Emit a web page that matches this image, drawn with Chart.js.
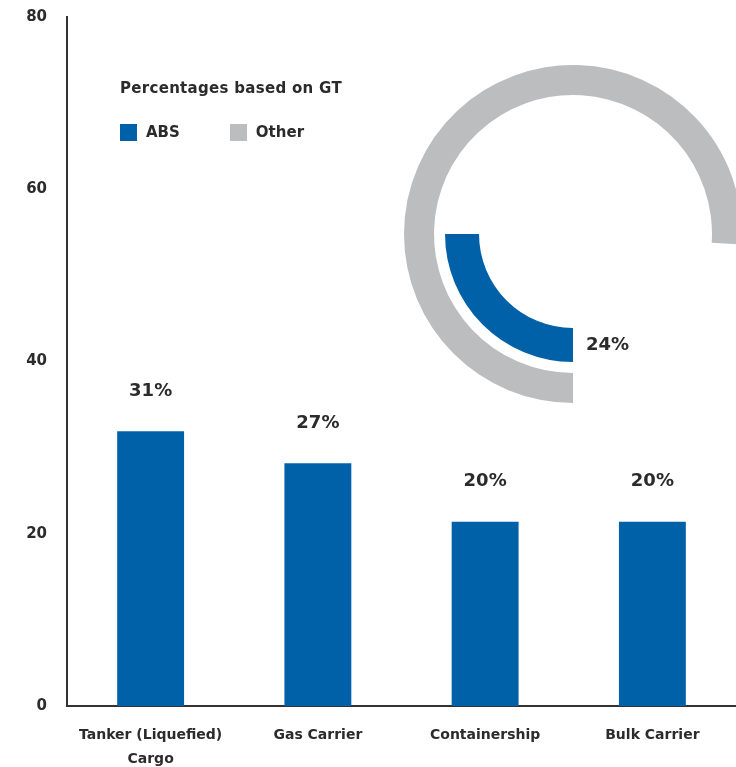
<!DOCTYPE html>
<html>
<head>
<meta charset="utf-8">
<script src="https://cdn.jsdelivr.net/npm/chart.js@4.4.1/dist/chart.umd.min.js"></script>
<style>
  html, body { margin: 0; padding: 0; background: #fff; overflow: hidden; }
  #wrap { position: relative; width: 736px; height: 767px; overflow: hidden; }
  #barChart { position: absolute; left: 0; top: -4px; }
  #ringChart { position: absolute; left: 404px; top: 65px; }
  .legend { position: absolute; left: 120px; top: 78px; font-family: "DejaVu Sans", sans-serif; font-weight: bold; color: #2b2b2b; font-size: 15px; }
  .legend .title { height: 20px; line-height: 20px; letter-spacing: 0.3px; }
  .legend .items { margin-top: 25px; display: flex; align-items: center; }
  .legend .sw { width: 17px; height: 17px; display: inline-block; margin-right: 9px; }
  .legend .item { display: flex; align-items: center; margin-right: 50px; }
</style>
</head>
<body>
<div id="wrap">
  <canvas id="barChart" width="736" height="771"></canvas>
  <canvas id="ringChart" width="338" height="338"></canvas>
  <div class="legend">
    <div class="title">Percentages based on GT</div>
    <div class="items">
      <div class="item"><span class="sw" style="background:#0061a8"></span>ABS</div>
      <div class="item"><span class="sw" style="background:#bcbdbf"></span>Other</div>
    </div>
  </div>
</div>
<script>
// data
const categories = [['Tanker (Liquefied)', 'Cargo'], 'Gas Carrier', 'Containership', 'Bulk Carrier'];
const barValues = [31.9, 28.2, 21.4, 21.4];
const barLabels = ['31%', '27%', '20%', '20%'];
const yTicks = [0, 20, 40, 60, 80];
const absArc = 25;      // arc as drawn in the picture
const absLabel = '24%';
const otherShare = 76;

const blue = '#0061a8';
const grey = '#bcbdbf';
const textColor = '#2b2b2b';
const fontFamily = '"DejaVu Sans", sans-serif';

// value labels above bars
const barLabelPlugin = {
    id: 'barLabels',
    afterDatasetsDraw(chart) {
        const ctx = chart.ctx;
        const meta = chart.getDatasetMeta(0);
        ctx.save();
        ctx.font = 'bold 18px ' + fontFamily;
        ctx.fillStyle = textColor;
        ctx.textAlign = 'center';
        ctx.textBaseline = 'middle';
        meta.data.forEach((bar, i) => {
            ctx.fillText(barLabels[i], bar.x, bar.y - 40);
        });
        ctx.restore();
    }
};

const ctxBar = document.getElementById('barChart').getContext('2d');
const barChart = new Chart(ctxBar, {
    type: 'bar',
    data: {
        labels: categories,
        datasets: [{
            data: barValues,
            backgroundColor: blue,
            borderWidth: 0,
            barPercentage: 0.4,
            categoryPercentage: 1.0
        }]
    },
    options: {
        responsive: false,
        animation: false,
        events: [],
        layout: {
            padding: { top: 6, right: 0, left: 0, bottom: 0 }
        },
        plugins: {
            legend: { display: false },
            tooltip: { enabled: false }
        },
        scales: {
            x: {
                grid: { display: false },
                border: { color: '#333', width: 2 },
                ticks: {
                    color: textColor,
                    font: { family: fontFamily, size: 14, weight: 'bold', lineHeight: 1.75 },
                    padding: 9,
                    maxRotation: 0,
                    autoSkip: false
                },
                afterFit(scale) { scale.height = 61; }
            },
            y: {
                min: 0,
                max: 80,
                grid: { display: false },
                border: { color: '#333', width: 2 },
                afterBuildTicks(scale) {
                    scale.ticks = yTicks.map(v => ({ value: v }));
                },
                ticks: {
                    color: textColor,
                    font: { family: fontFamily, size: 15, weight: 'bold' },
                    padding: 12
                },
                afterFit(scale) { scale.width = 67; }
            }
        }
    },
    plugins: [barLabelPlugin]
});

// share label next to the inner arc
const ringLabelPlugin = {
    id: 'ringLabel',
    afterDatasetsDraw(chart) {
        const arc = chart.getDatasetMeta(2).data[0];
        const ctx = chart.ctx;
        ctx.save();
        ctx.font = 'bold 18px ' + fontFamily;
        ctx.fillStyle = textColor;
        ctx.textAlign = 'left';
        ctx.textBaseline = 'middle';
        ctx.fillText(absLabel, arc.x + 13, arc.y + (arc.innerRadius + arc.outerRadius) / 2);
        ctx.restore();
    }
};

const ctxRing = document.getElementById('ringChart').getContext('2d');
const ringChart = new Chart(ctxRing, {
    type: 'doughnut',
    data: {
        labels: ['Other', 'ABS'],
        datasets: [{
            data: [otherShare, 100 - otherShare],
            backgroundColor: [grey, 'rgba(0,0,0,0)'],
            borderWidth: 0,
            weight: 30
        }, {
            data: [100],
            backgroundColor: ['rgba(0,0,0,0)'],
            borderWidth: 0,
            weight: 11
        }, {
            data: [absArc, 100 - absArc],
            backgroundColor: [blue, 'rgba(0,0,0,0)'],
            borderWidth: 0,
            weight: 34
        }]
    },
    options: {
        responsive: false,
        animation: false,
        events: [],
        rotation: 180,
        cutout: '55.6%',
        hoverOffset: 0,
        offset: 0,
        spacing: 0,
        layout: { padding: 0 },
        plugins: {
            legend: { display: false },
            tooltip: { enabled: false }
        }
    },
    plugins: [ringLabelPlugin]
});
</script>
</body>
</html>
